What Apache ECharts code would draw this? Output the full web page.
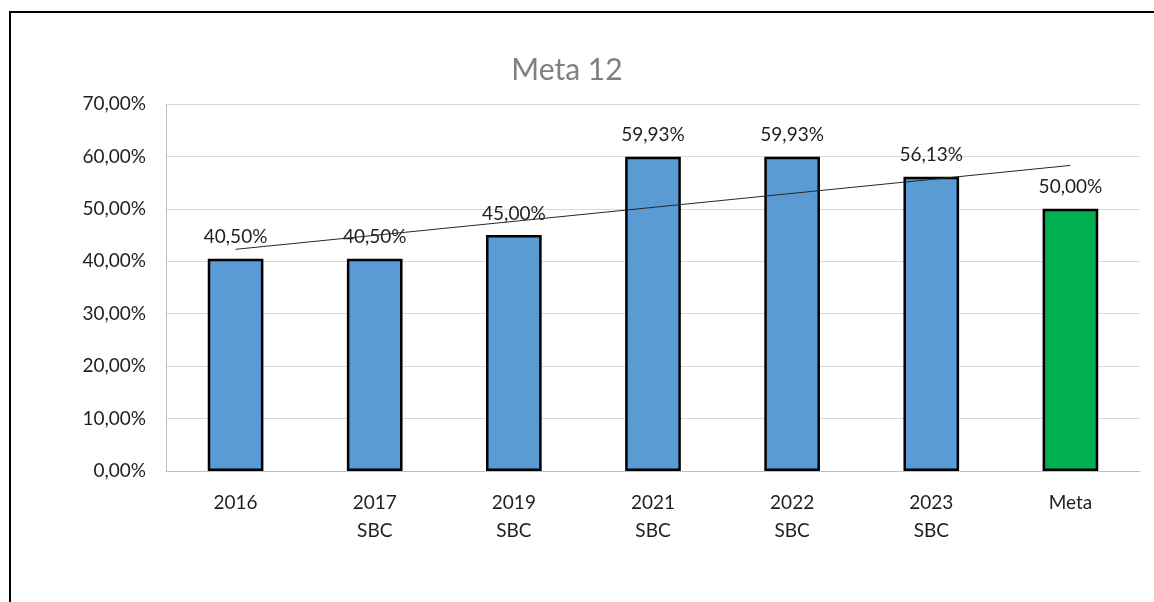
<!DOCTYPE html>
<html>
<head>
<meta charset="utf-8">
<script src="https://cdn.jsdelivr.net/npm/echarts@6/dist/echarts.min.js"></script>
<style>
    html, body {
        margin: 0;
        padding: 0;
        background: #fff;
    }
    .frame {
        position: absolute;
        left: 9px;
        top: 11px;
        width: 1160px;
        height: 600px;
        border-left: 2px solid #000;
        border-top: 2px solid #000;
    }
    #chart {
        position: absolute;
        left: 0;
        top: 0;
        width: 1154px;
        height: 602px;
    }
</style>
</head>
<body>
<div class="frame"></div>
<div id="chart"></div>
<script>
// dados do gráfico
const categories = ['2016', '2017\nSBC', '2019\nSBC', '2021\nSBC', '2022\nSBC', '2023\nSBC', 'Meta']
const values = [40.50, 40.50, 45.00, 59.93, 59.93, 56.13, 50.00]
const barColors = ['#5b9bd5', '#5b9bd5', '#5b9bd5', '#5b9bd5', '#5b9bd5', '#5b9bd5', '#00b050']

// linha de tendência linear (mínimos quadrados, igual ao Excel)
const n = values.length
const meanX = (n - 1) / 2
const meanY = values.reduce((a, b) => a + b, 0) / n
let num = 0, den = 0
values.forEach((v, i) => {
    num += (i - meanX) * (v - meanY)
    den += (i - meanX) * (i - meanX)
})
const slope = num / den
const trend = values.map((v, i) => meanY + slope * (i - meanX))

const fmt = v => v.toFixed(2).replace('.', ',') + '%'
const font = 'Lato, "Noto Sans", sans-serif'

const chart = echarts.init(document.getElementById('chart'))
chart.setOption({
    animation: false,
    title: {
        text: 'Meta 12',
        left: 562,
        top: 50,
        textAlign: 'center',
        textStyle: {
            fontFamily: font,
            fontSize: 30,
            fontWeight: 'normal',
            color: '#808080'
        }
    },
    grid: {
        left: 166,
        right: 14,
        top: 104,
        bottom: 131
    },
    xAxis: {
        type: 'category',
        data: categories,
        axisLine: { lineStyle: { color: '#bfbfbf', width: 1 } },
        axisTick: { show: false },
        axisLabel: {
            interval: 0,
            margin: 18,
            fontFamily: font,
            fontSize: 19,
            lineHeight: 28,
            color: '#1f1f1f'
        }
    },
    yAxis: {
        type: 'value',
        min: 0,
        max: 70,
        interval: 10,
        axisLine: { show: true, lineStyle: { color: '#bfbfbf', width: 1 } },
        axisTick: { show: false },
        splitLine: { lineStyle: { color: '#d9d9d9', width: 1 } },
        axisLabel: {
            margin: 20,
            fontFamily: font,
            fontSize: 19,
            color: '#1f1f1f',
            formatter: v => fmt(v)
        }
    },
    series: [
        {
            type: 'bar',
            barWidth: '40%',
            data: values.map((v, i) => ({
                value: v,
                itemStyle: { color: barColors[i] }
            })),
            itemStyle: {
                borderColor: '#000',
                borderWidth: 2.5
            },
            label: {
                show: true,
                position: 'top',
                distance: 12,
                fontFamily: font,
                fontSize: 19,
                color: '#1f1f1f',
                formatter: p => fmt(p.value)
            }
        },
        {
            type: 'line',
            data: trend,
            symbol: 'none',
            z: 5,
            lineStyle: { color: '#262626', width: 1 },
            silent: true
        }
    ]
})
</script>
</body>
</html>
